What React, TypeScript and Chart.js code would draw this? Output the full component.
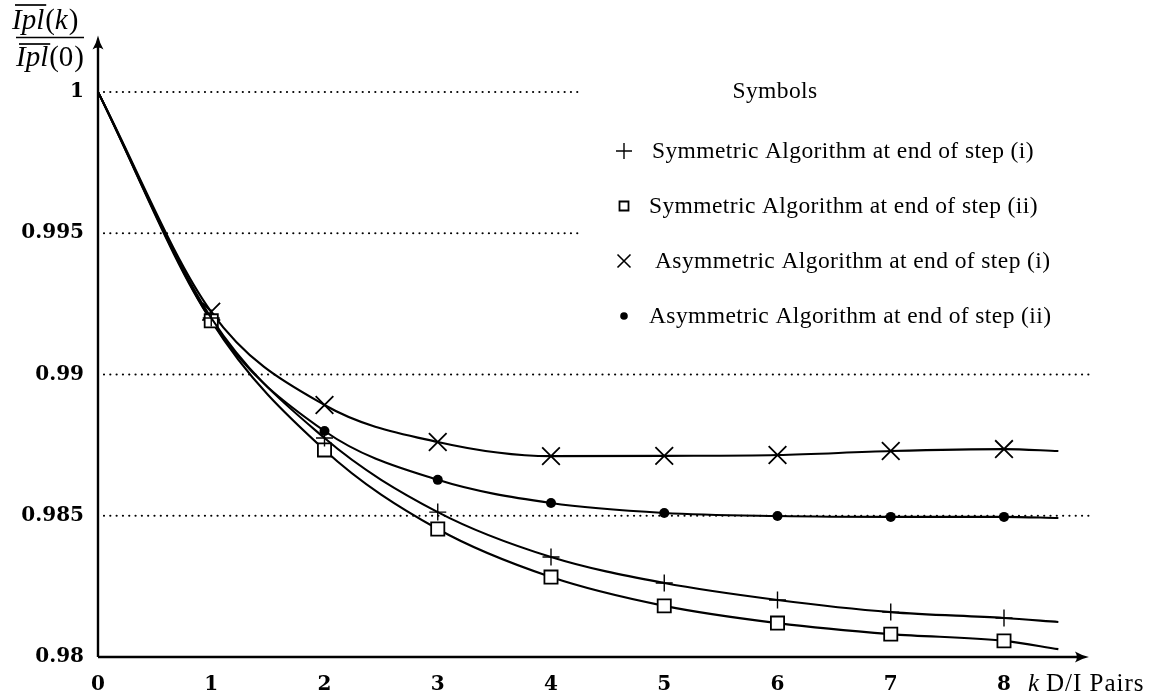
import React, { useEffect, useRef } from 'react';
import { Chart, registerables } from 'chart.js';

Chart.register(...registerables);

// ---- data ----
const kSteps = [1, 2, 3, 4, 5, 6, 7, 8];
const symStepI = [0.9920, 0.98775, 0.98513, 0.98354, 0.98262, 0.98202, 0.98159, 0.98138];
const symStepII = [0.9919, 0.98733, 0.98453, 0.98283, 0.98181, 0.98120, 0.98081, 0.98057];
const asymStepI = [0.99222, 0.98892, 0.98761, 0.98711, 0.98712, 0.98715, 0.98729, 0.98736];
const asymStepII = [0.9919, 0.98800, 0.98627, 0.98545, 0.98510, 0.98499, 0.98496, 0.98496];

// curves all start at k = 0 with value 1 and run on a little past k = 8
const curveStartK = 0;
const curveStartValue = 1;
const curveEndK = 8.48;
const curveEndValues = [0.98124, 0.98028, 0.98729, 0.98492];

const seriesLabels = [
  'Symmetric Algorithm at end of step (i)',
  'Symmetric Algorithm at end of step (ii)',
  'Asymmetric Algorithm at end of step (i)',
  'Asymmetric Algorithm at end of step (ii)',
];
const seriesValues = [symStepI, symStepII, asymStepI, asymStepII];
const seriesStyles = ['cross', 'rect', 'crossRot', 'circle'];

const xTickValues = [0, 1, 2, 3, 4, 5, 6, 7, 8];
const xTickLabels = ['0', '1', '2', '3', '4', '5', '6', '7', '8'];
const yTickValues = [0.98, 0.985, 0.99, 0.995, 1];
const yTickLabels = ['0.98', '0.985', '0.99', '0.995', '1'];
const gridValues = [1, 0.995, 0.99, 0.985];
const gridEnds = [4.27, 4.27, 8.8, 8.8];

const legendTitle = 'Symbols';
const xTitleVar = 'k';
const xTitleText = 'D/I Pairs';

const SERIF = '"Liberation Serif", "DejaVu Serif", serif';

function markerProps(style: string) {
  switch (style) {
    case 'cross':
      return { pointStyle: 'cross', pointRadius: 8.5, pointBorderWidth: 1.4, pointBackgroundColor: '#000' };
    case 'rect':
      return { pointStyle: 'rect', pointRadius: 9.3, pointBorderWidth: 1.8, pointBackgroundColor: '#fff' };
    case 'crossRot':
      return { pointStyle: 'crossRot', pointRadius: 12.5, pointBorderWidth: 1.8, pointBackgroundColor: '#000' };
    default:
      return { pointStyle: 'circle', pointRadius: 5, pointBorderWidth: 0, pointBackgroundColor: '#000' };
  }
}

function drawLegendMarker(ctx: CanvasRenderingContext2D, style: string, cx: number, cy: number) {
  ctx.save();
  ctx.strokeStyle = '#000';
  ctx.fillStyle = '#000';
  ctx.beginPath();
  if (style === 'cross') {
    ctx.lineWidth = 1.4;
    ctx.moveTo(cx - 8, cy); ctx.lineTo(cx + 8, cy);
    ctx.moveTo(cx, cy - 8); ctx.lineTo(cx, cy + 8);
    ctx.stroke();
  } else if (style === 'rect') {
    ctx.lineWidth = 1.8;
    ctx.rect(cx - 4.5, cy - 4.5, 9, 9);
    ctx.stroke();
  } else if (style === 'crossRot') {
    ctx.lineWidth = 1.6;
    ctx.moveTo(cx - 6.5, cy - 6.5); ctx.lineTo(cx + 6.5, cy + 6.5);
    ctx.moveTo(cx + 6.5, cy - 6.5); ctx.lineTo(cx - 6.5, cy + 6.5);
    ctx.stroke();
  } else {
    ctx.arc(cx, cy, 3.8, 0, Math.PI * 2);
    ctx.fill();
  }
  ctx.restore();
}

function arrowHead(ctx: CanvasRenderingContext2D, tx: number, ty: number, dir: 'up' | 'right') {
  ctx.save();
  ctx.translate(tx, ty);
  if (dir === 'right') ctx.rotate(Math.PI / 2);
  ctx.beginPath();
  ctx.moveTo(0, 0);
  ctx.quadraticCurveTo(1.5, 7, 5.5, 14);
  ctx.quadraticCurveTo(0, 10, -5.5, 14);
  ctx.quadraticCurveTo(-1.5, 7, 0, 0);
  ctx.closePath();
  ctx.fill();
  ctx.restore();
}

function drawFractionPart(ctx: CanvasRenderingContext2D, over: string, rest: string, restItalicVar: boolean, x: number, baseline: number, overY: number) {
  ctx.textBaseline = 'alphabetic';
  ctx.textAlign = 'left';
  ctx.font = `italic 29px ${SERIF}`;
  ctx.fillText(over, x, baseline);
  const w = ctx.measureText(over).width;
  ctx.font = `29px ${SERIF}`;
  let cx = x + w + 1;
  ctx.fillText('(', cx, baseline);
  cx += ctx.measureText('(').width;
  ctx.font = restItalicVar ? `italic 29px ${SERIF}` : `29px ${SERIF}`;
  ctx.fillText(rest, cx, baseline);
  cx += ctx.measureText(rest).width + 1;
  ctx.font = `29px ${SERIF}`;
  ctx.fillText(')', cx, baseline);
  ctx.lineWidth = 1.7;
  ctx.beginPath();
  ctx.moveTo(x + 3, overY);
  ctx.lineTo(x + w + 2, overY);
  ctx.stroke();
}

const decorPlugin = {
  id: 'decor',
  beforeDatasetsDraw(chart: any) {
    const { ctx, scales } = chart;
    const x = scales.x;
    const y = scales.y;
    const x0 = x.getPixelForValue(0);
    const yBottom = y.getPixelForValue(yTickValues[0]);
    ctx.save();
    // dotted reference lines
    ctx.strokeStyle = '#000';
    ctx.lineWidth = 2.2;
    ctx.lineCap = 'round';
    ctx.setLineDash([0.01, 6.3]);
    gridValues.forEach((v, i) => {
      const py = y.getPixelForValue(v);
      ctx.beginPath();
      ctx.moveTo(x0 + 6, py);
      ctx.lineTo(x.getPixelForValue(gridEnds[i]), py);
      ctx.stroke();
    });
    ctx.setLineDash([]);
    ctx.lineCap = 'butt';
    // axes with arrows
    ctx.fillStyle = '#000';
    ctx.lineWidth = 2.4;
    const yTop = chart.chartArea.top;
    const xTip = x.getPixelForValue(8.75);
    ctx.beginPath();
    ctx.moveTo(x0, yBottom);
    ctx.lineTo(x0, yTop + 6);
    ctx.moveTo(x0, yBottom);
    ctx.lineTo(xTip - 6, yBottom);
    ctx.stroke();
    arrowHead(ctx, x0, yTop, 'up');
    arrowHead(ctx, xTip, yBottom, 'right');
    ctx.restore();
  },
  afterDraw(chart: any) {
    const { ctx, scales } = chart;
    const x = scales.x;
    const y = scales.y;
    ctx.save();
    ctx.fillStyle = '#000';
    ctx.strokeStyle = '#000';

    // y-axis title: fraction
    drawFractionPart(ctx, 'Ipl', 'k', true, 12, 29, 5);
    ctx.lineWidth = 1.7;
    ctx.beginPath();
    ctx.moveTo(16, 37.5);
    ctx.lineTo(84, 37.5);
    ctx.stroke();
    drawFractionPart(ctx, 'Ipl', '0', false, 16, 66, 44);

    // x-axis title
    const baseY = y.getPixelForValue(yTickValues[0]) + 34;
    const lx = x.getPixelForValue(8) + 24;
    ctx.font = `italic 25px ${SERIF}`;
    ctx.textAlign = 'left';
    ctx.textBaseline = 'alphabetic';
    ctx.fillText(xTitleVar, lx, baseY);
    ctx.font = `25px ${SERIF}`;
    (ctx as any).letterSpacing = '1px';
    ctx.fillText(xTitleText, lx + 18, baseY);
    (ctx as any).letterSpacing = '0px';

    // legend
    ctx.font = `23.5px ${SERIF}`;
    ctx.textAlign = 'center';
    ctx.textBaseline = 'middle';
    (ctx as any).letterSpacing = '0.4px';
    ctx.fillText(legendTitle, 775, 92);
    const rows = [151, 206, 261, 316];
    const textX = [652, 649, 655, 649];
    ctx.textAlign = 'left';
    seriesLabels.forEach((label, i) => {
      drawLegendMarker(ctx, seriesStyles[i], 624, rows[i]);
      ctx.fillText(label, textX[i], rows[i] + 1);
    });
    (ctx as any).letterSpacing = '0px';
    ctx.restore();
  },
};

export default function App() {
  const canvasRef = useRef<HTMLCanvasElement | null>(null);

  useEffect(() => {
    if (!canvasRef.current) return;
    const datasets = seriesValues.map((vals, i) => {
      const data = [
        { x: curveStartK, y: curveStartValue },
        ...kSteps.map((k, j) => ({ x: k, y: vals[j] })),
        { x: curveEndK, y: curveEndValues[i] },
      ];
      const mp = markerProps(seriesStyles[i]);
      const last = data.length - 1;
      return {
        label: seriesLabels[i],
        data,
        borderColor: '#000',
        borderWidth: 2.1,
        backgroundColor: '#000',
        cubicInterpolationMode: 'monotone' as const,
        pointStyle: mp.pointStyle,
        pointBorderColor: '#000',
        pointBackgroundColor: mp.pointBackgroundColor,
        pointBorderWidth: mp.pointBorderWidth,
        pointRadius: (c: any) => (c.dataIndex === 0 || c.dataIndex === last ? 0 : mp.pointRadius),
        pointHoverRadius: 0,
        fill: false,
      };
    });

    const chart = new Chart(canvasRef.current, {
      type: 'line',
      data: { datasets },
      options: {
        animation: false,
        responsive: false,
        maintainAspectRatio: false,
        layout: { padding: { top: 35.5, right: 64.4, left: 0, bottom: 0 } },
        plugins: {
          legend: { display: false },
          tooltip: { enabled: false },
          title: { display: false },
        },
        scales: {
          x: {
            type: 'linear',
            min: 0,
            max: 8.8,
            grid: { display: false, drawTicks: false },
            border: { display: false },
            afterBuildTicks: (s: any) => {
              s.ticks = xTickValues.map((v) => ({ value: v }));
            },
            afterFit: (s: any) => {
              s.height = 39;
            },
            ticks: {
              color: '#000',
              padding: 16,
              maxRotation: 0,
              autoSkip: false,
              font: { family: '"DejaVu Serif", serif', size: 20, weight: 'bold' },
              callback: (v: any) => {
                const i = xTickValues.indexOf(Number(v));
                return i >= 0 ? xTickLabels[i] : '';
              },
            },
          },
          y: {
            type: 'linear',
            min: 0.98,
            max: 1.002,
            grid: { display: false, drawTicks: false },
            border: { display: false },
            afterBuildTicks: (s: any) => {
              s.ticks = yTickValues.map((v) => ({ value: v }));
            },
            afterFit: (s: any) => {
              s.width = 98;
            },
            ticks: {
              color: '#000',
              padding: 14,
              autoSkip: false,
              font: { family: '"DejaVu Serif", serif', size: 20, weight: 'bold' },
              callback: (v: any) => {
                const i = yTickValues.findIndex((t) => Math.abs(t - Number(v)) < 1e-9);
                return i >= 0 ? yTickLabels[i] : '';
              },
            },
          },
        },
      },
      plugins: [decorPlugin],
    } as any);

    return () => chart.destroy();
  }, []);

  return (
    <div style={{ position: 'fixed', left: 0, top: 0, width: 1159, height: 696, background: '#fff' }}>
      <canvas ref={canvasRef} width={1159} height={696} style={{ display: 'block', width: 1159, height: 696 }} />
    </div>
  );
}
